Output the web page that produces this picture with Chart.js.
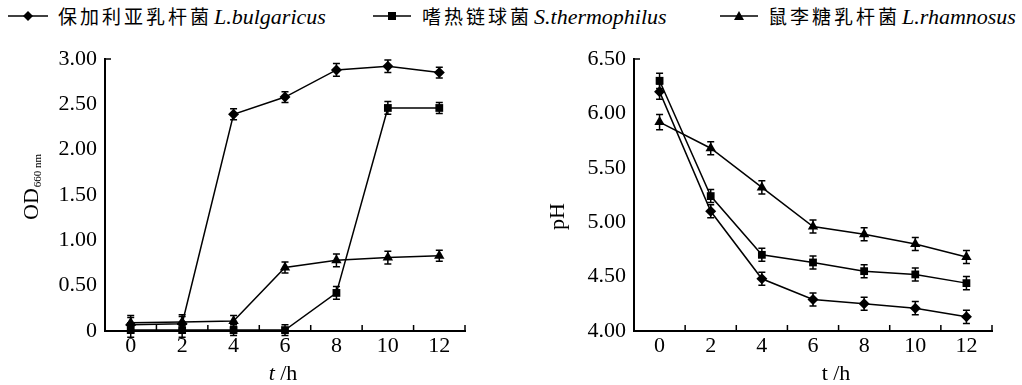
<!DOCTYPE html>
<html>
<head>
<meta charset="utf-8">
<script src="https://cdn.jsdelivr.net/npm/chart.js@4.4.1/dist/chart.umd.min.js"></script>
<style>
  body { margin: 0; background: #fff; width: 1022px; height: 385px; position: relative; overflow: hidden; }
  .box { position: absolute; top: 0; width: 511px; height: 385px; }
  .lg { position: absolute; top: 3px; height: 26px; line-height: 26px; white-space: nowrap; color: #000; }
  .lg svg { position: absolute; top: 3px; }
  .zh { font-family: "Noto Sans CJK SC", sans-serif; font-size: 19px; letter-spacing: 3px; margin-right: 2px; }
  .la { font-family: "Liberation Serif", serif; font-style: italic; font-size: 22px; }
</style>
</head>
<body>

<!-- legend shared by both panels -->
<div class="lg" style="left:8px">
  <svg width="40" height="20"><line x1="0" y1="10" x2="40" y2="10" stroke="#000" stroke-width="1.5"/><polygon points="20,5 25,10 20,15 15,10"/></svg>
  <span style="position:absolute;left:50px"><span class="zh">保加利亚乳杆菌</span><span class="la">L.bulgaricus</span></span>
</div>
<div class="lg" style="left:373px">
  <svg width="38" height="20"><line x1="0" y1="10" x2="38" y2="10" stroke="#000" stroke-width="1.5"/><rect x="15" y="6" width="8" height="8"/></svg>
  <span style="position:absolute;left:49px"><span class="zh">嗜热链球菌</span><span class="la">S.thermophilus</span></span>
</div>
<div class="lg" style="left:720px">
  <svg width="38" height="20"><line x1="0" y1="10" x2="38" y2="10" stroke="#000" stroke-width="1.5"/><polygon points="19,5 24,14 14,14"/></svg>
  <span style="position:absolute;left:48px"><span class="zh">鼠李糖乳杆菌</span><span class="la">L.rhamnosus</span></span>
</div>

<div class="box" style="left:0"><canvas id="odChart" width="511" height="385"></canvas></div>
<div class="box" style="left:511px"><canvas id="phChart" width="511" height="385"></canvas></div>

<script>
// time points (h)
const hours = ["0", "2", "4", "6", "8", "10", "12"];

// OD660 nm
const odBulgaricus = [0.07, 0.08, 2.39, 2.58, 2.88, 2.92, 2.85];
const odThermophilus = [0.01, 0.01, 0.01, 0.01, 0.42, 2.46, 2.46];
const odRhamnosus = [0.09, 0.10, 0.11, 0.70, 0.78, 0.81, 0.83];
const odErr = [0.08, 0.08, 0.06, 0.06, 0.07, 0.07, 0.06];
const odTicks = [0, 0.5, 1, 1.5, 2, 2.5, 3];

// pH
const phBulgaricus = [6.20, 5.10, 4.48, 4.29, 4.25, 4.21, 4.13];
const phThermophilus = [6.30, 5.24, 4.70, 4.63, 4.55, 4.52, 4.44];
const phRhamnosus = [5.92, 5.68, 5.32, 4.96, 4.89, 4.80, 4.68];
const phErr = [0.07, 0.06, 0.06, 0.06, 0.06, 0.06, 0.06];
const phTicks = [4, 4.5, 5, 5.5, 6, 6.5];

const SERIF = "Liberation Serif";
Chart.defaults.font.family = SERIF;

function series(data, shape, radius, err) {
  return {
    data: data,
    errorBars: err,
    borderColor: "#000",
    backgroundColor: "#000",
    borderWidth: 1.5,
    pointStyle: shape,
    pointRadius: radius,
    pointBorderWidth: 0,
    tension: 0,
    clip: false,
  };
}

// error bars, inward tick marks and axis titles
const decor = {
  id: "decor",
  afterDatasetsDraw(chart) {
    const { ctx, scales: { y } } = chart;
    ctx.save();
    ctx.strokeStyle = "#000";
    ctx.lineWidth = 1.5;
    chart.data.datasets.forEach((ds, i) => {
      const meta = chart.getDatasetMeta(i);
      meta.data.forEach((pt, j) => {
        const e = ds.errorBars[j];
        const y1 = y.getPixelForValue(ds.data[j] - e);
        const y2 = y.getPixelForValue(ds.data[j] + e);
        ctx.beginPath();
        ctx.moveTo(pt.x, y1); ctx.lineTo(pt.x, y2);
        ctx.moveTo(pt.x - 3.5, y1); ctx.lineTo(pt.x + 3.5, y1);
        ctx.moveTo(pt.x - 3.5, y2); ctx.lineTo(pt.x + 3.5, y2);
        ctx.stroke();
      });
    });
    ctx.restore();
  },
  afterDraw(chart, args, opts) {
    const { ctx, chartArea: a, scales: { x } } = chart;
    ctx.save();
    ctx.strokeStyle = "#000";
    ctx.lineWidth = 1.5;
    ctx.beginPath();
    for (let i = 0; i < hours.length; i++) {
      const px = x.getPixelForValue(i + 0.5);
      ctx.moveTo(px, a.bottom);
      ctx.lineTo(px, a.bottom - 6);
    }
    ctx.moveTo(a.left, a.top);
    ctx.lineTo(a.left + 6, a.top);
    ctx.stroke();

    ctx.fillStyle = "#000";
    ctx.textBaseline = "alphabetic";
    ctx.textAlign = "left";
    // x title  "t /h"
    const fT = (opts.italicT ? "italic " : "") + "22px " + SERIF;
    const fN = "22px " + SERIF;
    ctx.font = fT;
    const wt = ctx.measureText("t").width;
    ctx.font = fN;
    const wh = ctx.measureText(" /h").width;
    const sx = opts.xTitleX - (wt + wh) / 2;
    ctx.font = fT;
    ctx.fillText("t", sx, 380);
    ctx.font = fN;
    ctx.fillText(" /h", sx + wt, 380);

    // y title, rotated
    ctx.translate(opts.yTitle.x, opts.yTitle.y);
    ctx.rotate(-Math.PI / 2);
    ctx.font = fN;
    ctx.fillText(opts.yTitle.text, 0, 0);
    if (opts.yTitle.sub) {
      const w = ctx.measureText(opts.yTitle.text).width;
      ctx.font = "11px " + SERIF;
      ctx.fillText(opts.yTitle.sub, w + 1, 3);
    }
    ctx.restore();
  }
};

function makeChart(id, sets, yMin, yMax, ticks, fmt, yWidth, padRight, decorOpts) {
  return new Chart(document.getElementById(id), {
    type: "line",
    data: { labels: hours, datasets: sets },
    plugins: [decor],
    options: {
      responsive: false,
      animation: false,
      layout: { padding: { top: 59, right: padRight, left: 0, bottom: 0 } },
      plugins: { legend: { display: false }, tooltip: { enabled: false }, decor: decorOpts },
      scales: {
        x: {
          type: "category",
          offset: true,
          grid: { offset: true, drawOnChartArea: false, drawTicks: false },
          border: { color: "#000", width: 2 },
          ticks: { color: "#000", font: { family: SERIF, size: 22 }, padding: 2, maxRotation: 0 },
          afterFit(s) { s.height = 54; }
        },
        y: {
          min: yMin,
          max: yMax,
          grid: { drawOnChartArea: false, drawTicks: false },
          border: { color: "#000", width: 2 },
          afterBuildTicks(s) { s.ticks = ticks.map(v => ({ value: v })); },
          ticks: { color: "#000", font: { family: SERIF, size: 22 }, padding: 8, callback: fmt },
          afterFit(s) { s.width = yWidth; }
        }
      }
    }
  });
}

makeChart("odChart",
  [series(odBulgaricus, "rectRot", 5.5, odErr),
   series(odThermophilus, "rect", 5.5, odErr),
   series(odRhamnosus, "triangle", 6, odErr)],
  0, 3, odTicks, v => (v === 0 ? "0" : v.toFixed(2)), 105, 46,
  { italicT: true, xTitleX: 283, yTitle: { text: "OD", sub: "660 nm", x: 38, y: 220 } });

makeChart("phChart",
  [series(phBulgaricus, "rectRot", 5.5, phErr),
   series(phThermophilus, "rect", 5.5, phErr),
   series(phRhamnosus, "triangle", 6, phErr)],
  4, 6.5, phTicks, v => v.toFixed(2), 123, 30,
  { italicT: false, xTitleX: 325, yTitle: { text: "pH", x: 53, y: 230 } });
</script>
</body>
</html>
